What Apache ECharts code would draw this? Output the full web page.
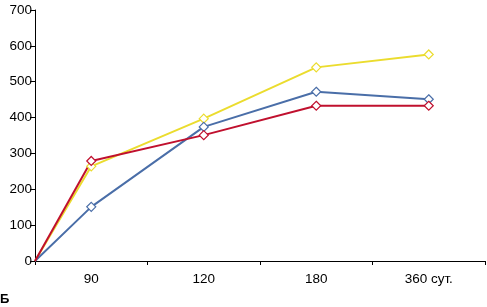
<!DOCTYPE html>
<html>
<head>
<meta charset="utf-8">
<script src="https://cdn.jsdelivr.net/npm/echarts@6/dist/echarts.min.js"></script>
<style>html,body{margin:0;padding:0;background:#fff;}#c{width:487px;height:307px;}</style>
</head>
<body>
<div id="c"></div>
<script>
const categories = ['90', '120', '180', '360 сут.'];
const startValue = 0;
const yellowValues = [264, 397, 540, 576];
const blueValues = [151, 374, 472, 451];
const redValues = [279, 351, 433, 433];
const yTicks = [0, 100, 200, 300, 400, 500, 600, 700];

function build(vals) {
  const d = [{value: [0, startValue], symbol: 'none'}];
  vals.forEach((v, i) => d.push([i + 0.5, v]));
  return d;
}
const font = 'Liberation Sans, Arial, sans-serif';
const chart = echarts.init(document.getElementById('c'), null, {renderer: 'canvas'});
const mk = (name, color, vals) => ({
  name, type: 'line', xAxisIndex: 1, data: build(vals),
  symbol: 'diamond', symbolSize: 9, showSymbol: true,
  lineStyle: {color, width: 2},
  itemStyle: {color: '#fff', borderColor: color, borderWidth: 1.2},
  z: 2
});
chart.setOption({
  animation: false,
  grid: {left: 35, right: 2, top: 10, bottom: 46, containLabel: false},
  xAxis: [
    {type: 'category', data: categories, boundaryGap: true,
     axisLine: {lineStyle: {color: '#000', width: 1}},
     axisTick: {show: true, alignWithLabel: false, length: 4, lineStyle: {color: '#000'}},
     axisLabel: {color: '#000', fontFamily: font, fontSize: 13.5, margin: 11},
     splitLine: {show: false}},
    {type: 'value', min: 0, max: 4, show: false}
  ],
  yAxis: {type: 'value', min: yTicks[0], max: yTicks[yTicks.length - 1], interval: 100,
    axisLine: {show: true, lineStyle: {color: '#000', width: 1}},
    axisTick: {show: true, length: 5, lineStyle: {color: '#000'}},
    axisLabel: {color: '#000', fontFamily: font, fontSize: 13.5, margin: 3},
    splitLine: {show: false}},
  series: [
    mk('yellow', '#ebdc2e', yellowValues),
    mk('blue', '#4a6ea8', blueValues),
    mk('red', '#c0102e', redValues)
  ],
  graphic: [{type: 'text', left: 0, top: 293, style: {text: 'Б', fontFamily: font, fontSize: 13, fontWeight: 'bold', fill: '#000'}}]
});
</script>
</body>
</html>
